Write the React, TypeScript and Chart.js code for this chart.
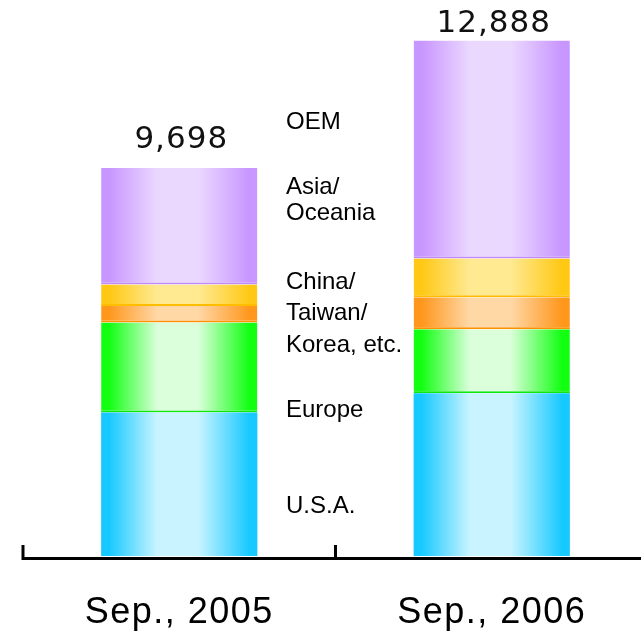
import { useEffect, useRef } from 'react';
import { Chart, registerables } from 'chart.js';

Chart.register(...registerables);

// Shipments by region (units), stacked from the bottom up
const periods = ['Sep., 2005', 'Sep., 2006'];
const usa = [3590, 4070];
const europe = [2250, 1600];
const chinaTaiwanKorea = [410, 800];
const asiaOceania = [540, 970];
const oem = [2908, 5448];

// Region names, split into the lines they are printed on
const regionLines = [
  ['U.S.A.'],
  ['Europe'],
  ['China/', 'Taiwan/', 'Korea, etc.'],
  ['Asia/', 'Oceania'],
  ['OEM'],
];

// Layout and styling
const CANVAS_W = 660;
const CANVAS_H = 636;
const BAR_FRACTION = 0.5;
const Y_MAX = 13900;
const NAME_X = 286;
const NAME_BASELINES = [[513], [417], [289, 320, 352], [194, 220], [129]];

const palette = [
  { edge: '#17c9ff', light: '#c9f4ff', rule: '#17c9ff' },
  { edge: '#12ff12', light: '#dbffdb', rule: '#0ee80e' },
  { edge: '#ff971c', light: '#ffd8a6', rule: '#ff9000' },
  { edge: '#ffc814', light: '#ffea92', rule: '#ffbd00' },
  { edge: '#c896ff', light: '#ebd8ff', rule: '#bf8af7' },
];

function barFill(edge: string, light: string) {
  return (c: any) => {
    const chart = c.chart;
    const xs = chart.scales?.x;
    if (!xs || !chart.chartArea || c.dataIndex == null) return edge;
    const center = xs.getPixelForValue(c.dataIndex);
    const half = ((xs.width / periods.length) * BAR_FRACTION) / 2;
    const g = chart.ctx.createLinearGradient(center - half, 0, center + half, 0);
    g.addColorStop(0, edge);
    g.addColorStop(0.05, edge);
    g.addColorStop(0.36, light);
    g.addColorStop(0.62, light);
    g.addColorStop(0.95, edge);
    g.addColorStop(1, edge);
    return g;
  };
}

const series = [usa, europe, chinaTaiwanKorea, asiaOceania, oem];

const chartDecor = {
  id: 'chartDecor',
  beforeDraw(chart: any) {
    chart.ctx.letterSpacing = '1.5px';
  },
  afterDatasetsDraw(chart: any) {
    const { ctx, chartArea } = chart;
    const xs = chart.scales.x;
    const ys = chart.scales.y;
    ctx.save();

    // Totals above each stack
    ctx.letterSpacing = '1px';
    ctx.fillStyle = '#111';
    ctx.font = '31px "DejaVu Sans"';
    ctx.textAlign = 'center';
    ctx.textBaseline = 'alphabetic';
    periods.forEach((_, i) => {
      const total = series.reduce((s, arr) => s + arr[i], 0);
      const top = ys.getPixelForValue(total);
      const y = Math.max(top - 20, 32);
      ctx.fillText(total.toLocaleString('en-US'), xs.getPixelForValue(i) + 2, y);
    });

    // Region names between the stacks
    ctx.letterSpacing = '0px';
    ctx.fillStyle = '#000';
    ctx.font = '24px "Liberation Sans"';
    ctx.textAlign = 'left';
    regionLines.forEach((lines, r) => {
      lines.forEach((line, k) => {
        ctx.fillText(line, NAME_X, NAME_BASELINES[r][k]);
      });
    });

    // Baseline axis with upward tick marks at category boundaries
    ctx.strokeStyle = '#000';
    ctx.lineWidth = 3;
    ctx.lineCap = 'butt';
    const axisY = chartArea.bottom + 2.5;
    ctx.beginPath();
    ctx.moveTo(chartArea.left - 1.5, axisY);
    ctx.lineTo(chart.width, axisY);
    for (let i = 0; i <= periods.length; i++) {
      const bx = xs.left + (i * xs.width) / periods.length;
      ctx.moveTo(bx, chartArea.bottom - 11);
      ctx.lineTo(bx, axisY + 1.5);
    }
    ctx.stroke();
    ctx.restore();
  },
  afterDraw(chart: any) {
    chart.ctx.letterSpacing = '0px';
  },
};

export default function App() {
  const canvasRef = useRef<HTMLCanvasElement | null>(null);

  useEffect(() => {
    if (!canvasRef.current) return;
    const chart = new Chart(canvasRef.current, {
      type: 'bar',
      data: {
        labels: periods,
        datasets: series.map((values, i) => ({
          label: regionLines[i].join(' '),
          data: values,
          backgroundColor: barFill(palette[i].edge, palette[i].light),
          borderColor: palette[i].rule,
          borderWidth: { top: 0, left: 0, right: 0, bottom: i === 0 ? 0 : 2 },
          borderSkipped: false,
          categoryPercentage: 1,
          barPercentage: BAR_FRACTION,
        })),
      },
      options: {
        animation: false,
        responsive: false,
        devicePixelRatio: 1,
        layout: { padding: { left: 23, right: 12, top: 0, bottom: 0 } },
        plugins: {
          legend: { display: false },
          tooltip: { enabled: false },
        },
        scales: {
          x: {
            stacked: true,
            grid: { display: false, drawTicks: false },
            border: { display: false },
            ticks: {
              color: '#000',
              font: { family: '"Liberation Sans"', size: 36 },
              padding: 35,
              maxRotation: 0,
              autoSkip: false,
            },
            afterFit: (scale: any) => {
              scale.height = 80;
            },
          },
          y: {
            stacked: true,
            display: false,
            min: 0,
            max: Y_MAX,
          },
        },
      } as any,
      plugins: [chartDecor],
    });
    return () => chart.destroy();
  }, []);

  return (
    <div
      style={{
        position: 'fixed',
        left: 0,
        top: 0,
        width: 641,
        height: 636,
        overflow: 'hidden',
        background: '#fff',
      }}
    >
      <canvas
        ref={canvasRef}
        width={CANVAS_W}
        height={CANVAS_H}
        style={{ display: 'block', width: CANVAS_W, height: CANVAS_H }}
      />
    </div>
  );
}
